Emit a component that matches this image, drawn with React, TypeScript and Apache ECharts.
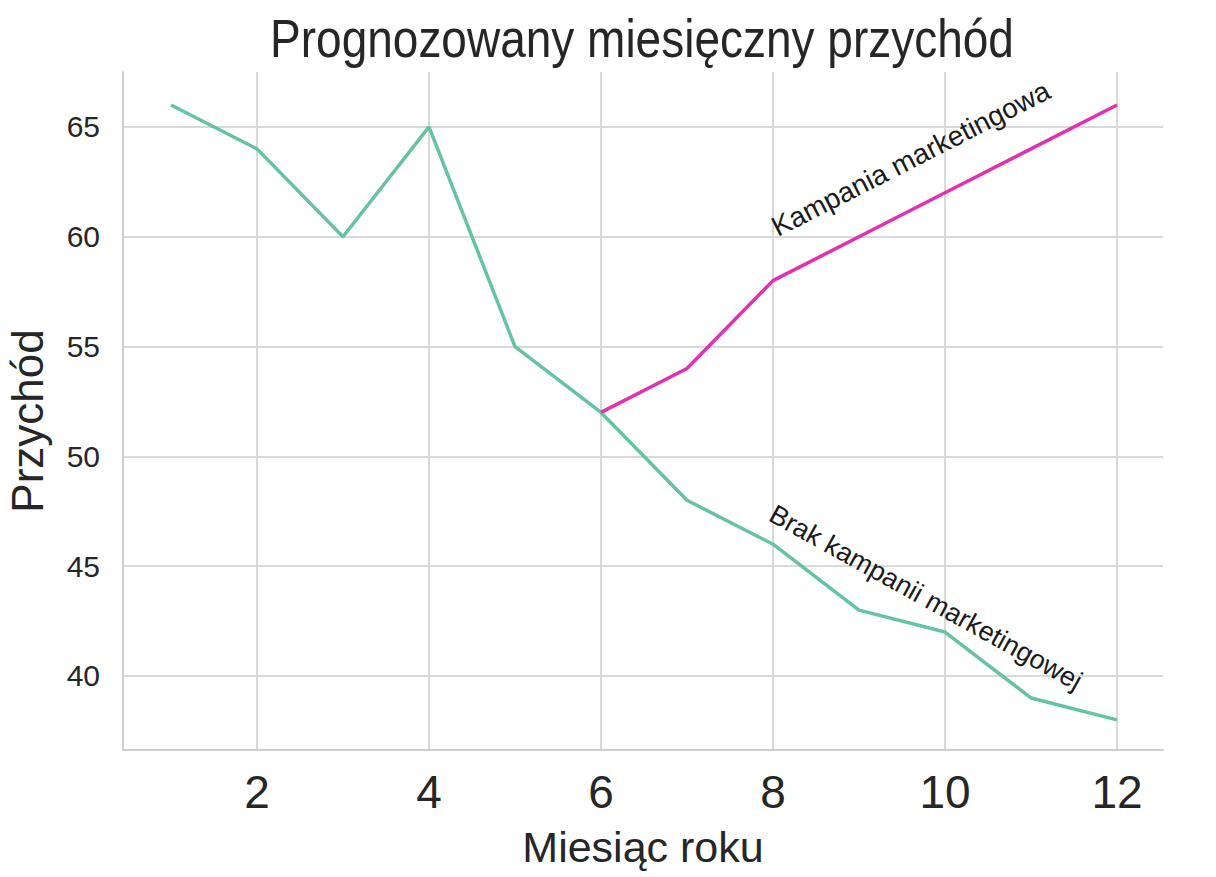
import React, { useEffect, useRef } from "react";
import * as echarts from "echarts";

const months = [1, 2, 3, 4, 5, 6, 7, 8, 9, 10, 11, 12];
const noCampaign = [66, 64, 60, 65, 55, 52, 48, 46, 43, 42, 39, 38];
const campaignMonths = [6, 7, 8, 9, 10, 11, 12];
const campaign = [52, 54, 58, 60, 62, 64, 66];
const xTicks = [2, 4, 6, 8, 10, 12];
const yTicks = [40, 45, 50, 55, 60, 65];

const titleText = "Prognozowany miesięczny przychód";
const xName = "Miesiąc roku";
const yName = "Przychód";
const campaignLabel = "Kampania marketingowa";
const noCampaignLabel = "Brak kampanii marketingowej";
const campaignLabelAt = [8.08, 59.8];
const noCampaignLabelAt = [8.06, 48.0];

const FONT = "'Liberation Sans', Arial, Helvetica, sans-serif";
const TEXT = "#262626";
const GRID = "#d9d9d9";

export default function App() {
  const ref = useRef<HTMLDivElement>(null);
  useEffect(() => {
    if (!ref.current) return;
    const chart = echarts.init(ref.current, undefined, { renderer: "svg" });
    chart.setOption({
      animation: false,
      backgroundColor: "#ffffff",
      grid: {
        left: 123,
        right: 53,
        top: 72,
        bottom: 127,
        containLabel: false,
        outerBoundsMode: "none",
      },
      xAxis: {
        type: "value",
        min: 0.442,
        max: 12.535,
        minInterval: 2,
        maxInterval: 2,
        name: xName,
        nameLocation: "middle",
        nameGap: 75,
        nameTextStyle: { fontSize: 43, color: TEXT, fontFamily: FONT },
        axisLine: { show: true, lineStyle: { color: "#cfcfcf", width: 2 } },
        axisTick: { show: false },
        axisLabel: {
          fontSize: 46,
          color: TEXT,
          fontFamily: FONT,
          margin: 19,
          showMinLabel: false,
          showMaxLabel: false,
          formatter: (v: number) => (xTicks.includes(v) ? String(v) : ""),
        },
        splitLine: {
          show: true,
          showMinLine: false,
          showMaxLine: false,
          lineStyle: { color: GRID, width: 2 },
        },
      },
      yAxis: {
        type: "value",
        min: 36.63,
        max: 67.5,
        minInterval: 5,
        maxInterval: 5,
        name: yName,
        nameLocation: "middle",
        nameGap: 74,
        nameTextStyle: { fontSize: 44, color: TEXT, fontFamily: FONT, padding: [0, 20, 0, 0] },
        axisLine: { show: true, lineStyle: { color: "#cfcfcf", width: 2 } },
        axisTick: { show: false },
        axisLabel: {
          fontSize: 30,
          color: TEXT,
          fontFamily: FONT,
          margin: 23,
          showMinLabel: false,
          showMaxLabel: false,
          formatter: (v: number) => (yTicks.includes(v) ? String(v) : ""),
        },
        splitLine: {
          show: true,
          showMinLine: false,
          showMaxLine: false,
          lineStyle: { color: GRID, width: 2 },
        },
      },
      series: [
        {
          type: "line",
          name: noCampaignLabel,
          data: months.map((m, i) => [m, noCampaign[i]]),
          symbol: "none",
          lineStyle: { color: "#66c2a5", width: 3.5 },
          itemStyle: { color: "#66c2a5" },
          z: 2,
        },
        {
          type: "line",
          name: campaignLabel,
          data: campaignMonths.map((m, i) => [m, campaign[i]]),
          symbol: "none",
          lineStyle: { color: "#e430b0", width: 3.5 },
          itemStyle: { color: "#e430b0" },
          z: 3,
        },
      ],
    });

    const p1 = chart.convertToPixel({ gridIndex: 0 }, campaignLabelAt) as number[];
    const p2 = chart.convertToPixel({ gridIndex: 0 }, noCampaignLabelAt) as number[];
    chart.setOption({
      graphic: [
        {
          type: "text",
          x: 642,
          y: 38,
          scaleY: 1.18,
          style: {
            text: titleText,
            fontSize: 46,
            fontFamily: FONT,
            fill: TEXT,
            align: "center",
            verticalAlign: "middle",
          },
        },
        {
          type: "text",
          x: p1[0],
          y: p1[1],
          rotation: (27 * Math.PI) / 180,
          style: {
            text: campaignLabel,
            fontSize: 28,
            fontFamily: FONT,
            fill: "#1a1a1a",
            align: "left",
            verticalAlign: "bottom",
          },
        },
        {
          type: "text",
          x: p2[0],
          y: p2[1],
          rotation: (-29 * Math.PI) / 180,
          style: {
            text: noCampaignLabel,
            fontSize: 27,
            fontFamily: FONT,
            fill: "#1a1a1a",
            align: "left",
            verticalAlign: "top",
          },
        },
      ],
    });

    return () => chart.dispose();
  }, []);

  return (
    <div
      ref={ref}
      style={{ position: "absolute", left: 0, top: 0, width: 1216, height: 877 }}
    />
  );
}
